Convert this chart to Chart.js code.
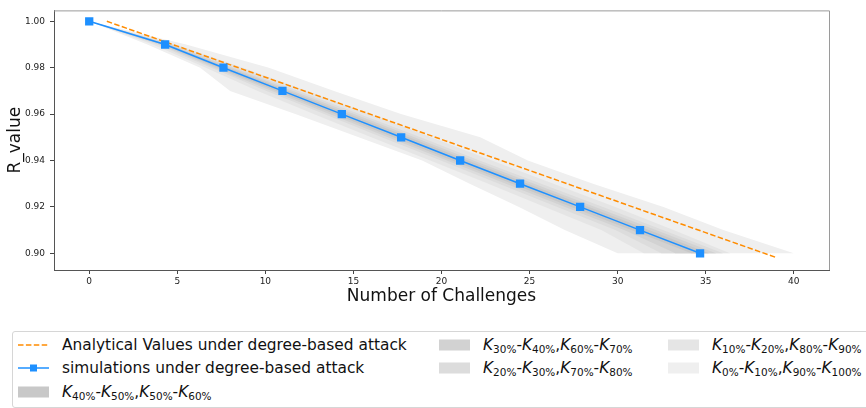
<!DOCTYPE html>
<html>
<head>
<meta charset="utf-8">
<script src="https://cdn.jsdelivr.net/npm/chart.js@4.4.1/dist/chart.umd.min.js"></script>
<style>
    body { margin: 0; background: #fff; font-family: "DejaVu Sans", sans-serif; }
    #wrap { position: relative; width: 866px; height: 408px; overflow: hidden; }
    #plot { position: absolute; left: 0; top: 0; width: 866px; height: 312px; }
    #legend {
        position: absolute; left: 12px; top: 331px; width: 880px; height: 75px;
        border: 1px solid #d6d6d6; border-radius: 3px; font-size: 15.4px; color: #111;
    }
    .item { position: absolute; height: 22px; line-height: 22px; white-space: nowrap; }
    .item canvas { position: absolute; left: 0; top: 0; }
    .item span { position: absolute; left: 44px; top: 0; }
    .item sub { font-size: 68%; vertical-align: -0.25em; line-height: 0; }
</style>
</head>
<body>
<div id="wrap">
    <div id="plot"><canvas id="chart"></canvas></div>
    <div id="legend"></div>
</div>
<script>
// R levels reached (y) and number of challenges needed (x)
const rLevels = [1.00, 0.99, 0.98, 0.97, 0.96, 0.95, 0.94, 0.93, 0.92, 0.91, 0.90];
const simChallenges = [0, 4.31, 7.62, 10.97, 14.34, 17.71, 21.06, 24.46, 27.87, 31.27, 34.68];

// analytical curve
const anaChallenges = [1, 5, 10, 15, 20, 25, 30, 35, 39];
const anaValues = [1.000, 0.9893, 0.9759, 0.9625, 0.9491, 0.9357, 0.9223, 0.9089, 0.8982];

// percentiles of challenges at each R level
const k0   = [0, 3.3, 6.3, 8.0, 11.7, 15.3, 18.9, 21.6, 24.4, 27.0, 30.0];
const k10  = [0, 3.61, 6.62, 9.57, 12.74, 16.01, 19.36, 22.66, 25.87, 29.07, 31.48];
const k20  = [0, 3.86, 6.92, 10.07, 13.34, 16.61, 19.96, 23.26, 26.57, 29.87, 32.48];
const k30  = [0, 4.01, 7.12, 10.37, 13.64, 16.96, 20.31, 23.66, 27.02, 30.37, 33.28];
const k40  = [0, 4.16, 7.32, 10.62, 13.94, 17.26, 20.61, 24.01, 27.37, 30.77, 34.18];
const k60  = [0, 4.46, 7.92, 11.32, 14.74, 18.16, 21.51, 24.91, 28.37, 31.77, 35.18];
const k70  = [0, 4.61, 8.12, 11.57, 15.04, 18.46, 21.81, 25.26, 28.72, 32.17, 35.58];
const k80  = [0, 4.76, 8.32, 11.87, 15.34, 18.81, 22.16, 25.66, 29.17, 32.57, 35.98];
const k90  = [0, 4.91, 8.72, 12.37, 15.94, 19.41, 22.86, 26.36, 29.87, 33.17, 36.38];
const k100 = [0, 5.5, 10.2, 13.9, 17.7, 22.2, 24.9, 28.6, 32.6, 36.0, 40.0];

const xTicks = [0, 5, 10, 15, 20, 25, 30, 35, 40];
const yTicks = [0.90, 0.92, 0.94, 0.96, 0.98, 1.00];

const FONT = '"DejaVu Sans", sans-serif';

// polygon between a low and a high percentile curve
function band(low, high) {
    const pts = low.map((x, i) => ({ x: x, y: rLevels[i] }));
    for (let i = high.length - 1; i >= 0; i--) {
        pts.push({ x: high[i], y: rLevels[i] });
    }
    return pts;
}

function bandSet(label, low, high, color, order) {
    return {
        label: label,
        data: band(low, high),
        backgroundColor: color,
        borderColor: 'rgba(0,0,0,0)',
        borderWidth: 0,
        pointRadius: 0,
        fill: 'shape',
        tension: 0,
        order: order
    };
}

const datasets = [
    {
        label: 'Analytical Values under degree-based attack',
        data: anaChallenges.map((x, i) => ({ x: x, y: anaValues[i] })),
        borderColor: '#ff8c00',
        borderWidth: 1.5,
        borderDash: [5.5, 2.4],
        pointRadius: 0,
        fill: false,
        order: 1
    },
    {
        label: 'simulations under degree-based attack',
        data: simChallenges.map((x, i) => ({ x: x, y: rLevels[i] })),
        borderColor: '#1e90ff',
        backgroundColor: '#1e90ff',
        borderWidth: 1.5,
        pointStyle: 'rect',
        pointRadius: 4.8,
        fill: false,
        order: 0
    },
    bandSet('K40%-K50%,K50%-K60%', k40, k60, '#c8c8c8', 2),
    bandSet('K30%-K40%,K60%-K70%', k30, k70, '#d2d2d2', 3),
    bandSet('K20%-K30%,K70%-K80%', k20, k80, '#dcdcdc', 4),
    bandSet('K10%-K20%,K80%-K90%', k10, k90, '#e5e5e5', 5),
    bandSet('K0%-K10%,K90%-K100%', k0, k100, '#efefef', 6)
];

// top and right spines
const framePlugin = {
    id: 'frame',
    afterDraw(chart) {
        const a = chart.chartArea;
        const ctx = chart.ctx;
        ctx.save();
        ctx.strokeStyle = '#9a9a9a';
        ctx.lineWidth = 1;
        ctx.beginPath();
        ctx.moveTo(a.left, a.top + 0.5);
        ctx.lineTo(a.right + 0.5, a.top + 0.5);
        ctx.lineTo(a.right + 0.5, a.bottom);
        ctx.stroke();
        ctx.restore();
    }
};

const ctx = document.getElementById('chart').getContext('2d');
const chart = new Chart(ctx, {
    type: 'line',
    data: { datasets: datasets },
    plugins: [framePlugin],
    options: {
        responsive: true,
        maintainAspectRatio: false,
        animation: false,
        layout: { padding: { top: 6, right: 37, left: 0, bottom: 0 } },
        plugins: { legend: { display: false }, tooltip: { enabled: false } },
        scales: {
            x: {
                type: 'linear',
                min: -2,
                max: 42,
                afterBuildTicks: scale => { scale.ticks = xTicks.map(v => ({ value: v })); },
                afterFit: scale => { scale.height = 42; },
                ticks: { font: { family: FONT, size: 9 }, color: '#222', padding: 2, maxRotation: 0 },
                grid: { drawOnChartArea: false, tickLength: 4, tickColor: '#444' },
                border: { color: '#555', width: 1 },
                title: {
                    display: true, text: 'Number of Challenges',
                    font: { family: FONT, size: 17 }, color: '#111',
                    padding: { top: 0, bottom: 5 }
                }
            },
            y: {
                min: 0.8928,
                max: 1.0047,
                afterBuildTicks: scale => { scale.ticks = yTicks.map(v => ({ value: v })); },
                afterFit: scale => { scale.width = 54; },
                ticks: {
                    font: { family: FONT, size: 9 }, color: '#222', padding: 5,
                    callback: v => v.toFixed(2)
                },
                grid: { drawOnChartArea: false, tickLength: 4, tickColor: '#444' },
                border: { color: '#555', width: 1 },
                title: {
                    display: true, text: 'R_value',
                    font: { family: FONT, size: 17 }, color: '#111',
                    padding: { top: 5, bottom: 0 }
                }
            }
        }
    }
});

// legend built from the chart's datasets, 3 columns like the original
const legendPos = [
    [5, 2], [5, 25], [5, 49],
    [426, 2], [426, 25],
    [655, 2], [655, 25]
];

function mathLabel(text) {
    return text.replace(/K(\d+%)/g, '<i>K</i><sub>$1</sub>');
}

const legendEl = document.getElementById('legend');
chart.data.datasets.forEach((ds, i) => {
    const item = document.createElement('div');
    item.className = 'item';
    item.style.left = legendPos[i][0] + 'px';
    item.style.top = legendPos[i][1] + 'px';
    const c = document.createElement('canvas');
    c.width = 32;
    c.height = 22;
    const g = c.getContext('2d');
    if (ds.fill === 'shape') {
        g.fillStyle = ds.backgroundColor;
        g.fillRect(0, 5.5, 31, 11);
    } else {
        g.strokeStyle = ds.borderColor;
        g.lineWidth = ds.borderWidth;
        if (ds.borderDash) g.setLineDash(ds.borderDash);
        g.beginPath();
        g.moveTo(0, 11);
        g.lineTo(31, 11);
        g.stroke();
        if (ds.pointStyle === 'rect') {
            g.fillStyle = ds.backgroundColor;
            g.fillRect(12, 7.5, 7, 7);
        }
    }
    item.appendChild(c);
    const s = document.createElement('span');
    s.innerHTML = mathLabel(ds.label);
    item.appendChild(s);
    legendEl.appendChild(item);
});
</script>
</body>
</html>
